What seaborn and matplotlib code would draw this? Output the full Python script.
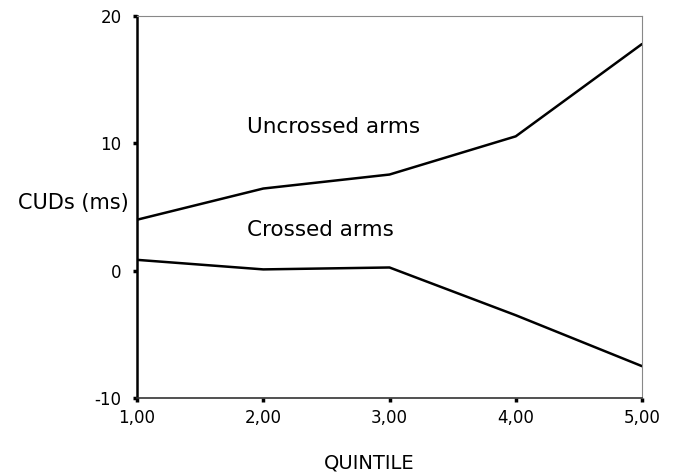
import matplotlib
matplotlib.use("Agg")
import matplotlib.pyplot as plt
import seaborn as sns
import pandas as pd

quintile = [1, 2, 3, 4, 5]
uncrossed = [4.0, 6.45, 7.55, 10.55, 17.8]
crossed = [0.85, 0.1, 0.25, -3.5, -7.5]
y_ticks = [-10, 0, 10, 20]
y_tick_labels = ["-10", "0", "10", "20"]
x_ticks = [1, 2, 3, 4, 5]
x_tick_labels = ["1,00", "2,00", "3,00", "4,00", "5,00"]

df = pd.DataFrame({
    "QUINTILE": quintile * 2,
    "CUDs": uncrossed + crossed,
    "cond": ["Uncrossed arms"] * 5 + ["Crossed arms"] * 5,
})

sns.set_theme(style="white")
plt.rcParams["font.family"] = ["DejaVu Sans"]

fig = plt.figure(figsize=(6.76, 4.74), dpi=100)
ax = fig.add_axes([137/676, 1 - 398/474, (642 - 137)/676, (398 - 16)/474])
sns.lineplot(data=df, x="QUINTILE", y="CUDs", hue="cond",
             palette=["black", "black"], linewidth=1.8, legend=False, ax=ax)

ax.set_xlim(1, 5)
ax.set_ylim(-10, 20)
ax.set_xticks(x_ticks)
ax.set_xticklabels(x_tick_labels)
ax.set_yticks(y_ticks)
ax.set_yticklabels(y_tick_labels)
ax.set_xlabel("")
ax.set_ylabel("")
ax.tick_params(axis="both", which="both", length=3, width=2.5, color="black",
               labelsize=12, labelcolor="black", direction="out",
               left=True, bottom=True)
ax.tick_params(axis="x", pad=5)
ax.tick_params(axis="y", pad=8)

for side in ["top", "right"]:
    ax.spines[side].set_color("#888888")
    ax.spines[side].set_linewidth(0.8)
ax.spines["left"].set_color("black")
ax.spines["left"].set_linewidth(1.8)
ax.spines["bottom"].set_color("#333333")
ax.spines["bottom"].set_linewidth(1.2)

ax.text(1.87, 11.3, "Uncrossed arms", fontsize=15.5, color="black", va="center", ha="left")
ax.text(1.87, 3.2, "Crossed arms", fontsize=15.5, color="black", va="center", ha="left")

fig.text(73/676, 1 - 203/474, "CUDs (ms)", fontsize=15, ha="center", va="center", color="black")
fig.text(369/676, 1 - 463/474, "QUINTILE", fontsize=14, ha="center", va="center", color="black")

fig.savefig("out.png", dpi=100)
